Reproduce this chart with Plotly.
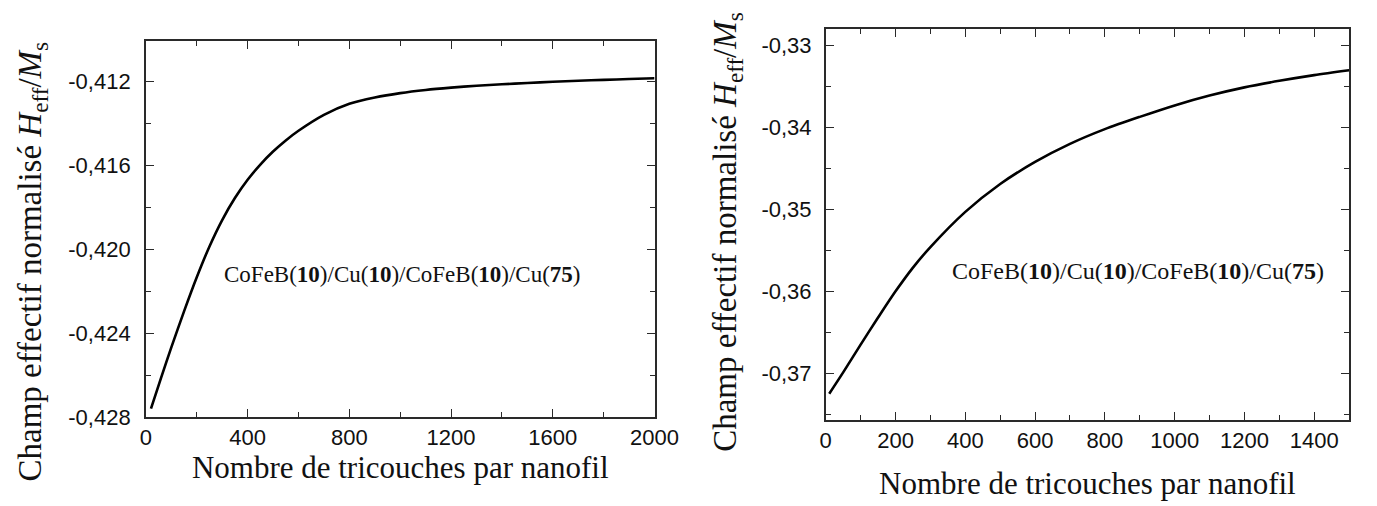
import plotly.graph_objects as go

# ---------------- data ----------------
left_x = [20, 60, 100, 150, 200, 250, 300, 350, 400, 450, 500, 550, 600, 700, 800,
          900, 1000, 1100, 1200, 1300, 1400, 1500, 1600, 1700, 1800, 1900, 2000]
left_y = [-0.42760, -0.42612, -0.42468, -0.42296, -0.42133, -0.41986, -0.41860,
          -0.41755, -0.41668, -0.41595, -0.41533, -0.41480, -0.41434, -0.41358,
          -0.41305, -0.41275, -0.41254, -0.41239, -0.41228, -0.41219, -0.41212,
          -0.41206, -0.41200, -0.41195, -0.41191, -0.41187, -0.41183]

right_x = [10, 50, 100, 150, 200, 250, 300, 400, 500, 600, 700, 800, 900, 1000,
           1100, 1200, 1300, 1400, 1500]
right_y = [-0.3725, -0.3699, -0.3665, -0.3632, -0.3600, -0.3571, -0.3546, -0.3503,
           -0.3469, -0.3442, -0.3420, -0.3402, -0.3387, -0.3373, -0.3361, -0.3351,
           -0.3343, -0.3336, -0.3330]

left_xticks = [0, 400, 800, 1200, 1600, 2000]
left_xtext = ["0", "400", "800", "1200", "1600", "2000"]
left_yticks = [-0.428, -0.424, -0.420, -0.416, -0.412]
left_ytext = ["-0,428", "-0,424", "-0,420", "-0,416", "-0,412"]

right_xticks = [0, 200, 400, 600, 800, 1000, 1200, 1400]
right_xtext = ["0", "200", "400", "600", "800", "1000", "1200", "1400"]
right_yticks = [-0.37, -0.36, -0.35, -0.34, -0.33]
right_ytext = ["-0,37", "-0,36", "-0,35", "-0,34", "-0,33"]

x_title = "Nombre de tricouches par nanofil"
y_title = "Champ effectif normalisé <i>H</i><sub>eff</sub>/<i>M</i><sub>s</sub>"
label = "CoFeB(<b>10</b>)/Cu(<b>10</b>)/CoFeB(<b>10</b>)/Cu(<b>75</b>)"

# ---------------- figure ----------------
W, H = 1377, 506
SANS = "Liberation Sans, Arial, sans-serif"
SERIF = "Liberation Serif, Times New Roman, serif"
INK = "#111"

fig = go.Figure()
fig.add_trace(go.Scatter(x=left_x, y=left_y, mode="lines",
                         line=dict(color="black", width=2.6, shape="spline", smoothing=0.8),
                         xaxis="x", yaxis="y", showlegend=False))
fig.add_trace(go.Scatter(x=right_x, y=right_y, mode="lines",
                         line=dict(color="black", width=2.6, shape="spline", smoothing=0.8),
                         xaxis="x2", yaxis="y2", showlegend=False))


def xdom(a, b):
    return [a / W, b / W]


def ydom(top, bottom):
    return [1 - bottom / H, 1 - top / H]


common = dict(showline=True, linecolor="#2a2a2a", linewidth=1.6, mirror="ticks", ticks="inside",
              ticklen=8, tickwidth=1.4, tickcolor="#2a2a2a", showgrid=False, zeroline=False,
              tickfont=dict(family=SANS, size=22, color=INK))


def minor(step, start):
    return dict(ticks="inside", dtick=step, tick0=start, ticklen=5, tickwidth=1.2, tickcolor="#2a2a2a")


fig.update_layout(
    width=W, height=H, margin=dict(l=0, r=0, t=0, b=0),
    paper_bgcolor="white", plot_bgcolor="white",
    xaxis=dict(domain=xdom(143, 663), range=[0, 2000], anchor="y",
               tickvals=left_xticks, ticktext=left_xtext, minor=minor(200, 0),
               title=dict(text=x_title, font=dict(family=SERIF, size=31, color=INK), standoff=6),
               **common),
    yaxis=dict(domain=ydom(42, 428), range=[-0.428, -0.41005], anchor="x",
               tickvals=left_yticks, ticktext=left_ytext, minor=minor(0.002, -0.428),
               ticklabelstandoff=9, **common),
    xaxis2=dict(domain=xdom(838, 1373), range=[0, 1500], anchor="y2",
                tickvals=right_xticks, ticktext=right_xtext, minor=minor(100, 0),
                title=dict(text=x_title, font=dict(family=SERIF, size=31, color=INK), standoff=20),
                **common),
    yaxis2=dict(domain=ydom(30, 431), range=[-0.3757, -0.328], anchor="x2",
                tickvals=right_yticks, ticktext=right_ytext, minor=minor(0.005, -0.375),
                ticklabelstandoff=8, **common),
    annotations=[
        dict(text=y_title, x=27 / W, y=1 - 268 / H, xref="paper", yref="paper", textangle=-90,
             showarrow=False, font=dict(family=SERIF, size=33, color=INK),
             xanchor="center", yanchor="middle"),
        dict(text=y_title, x=738 / W, y=1 - 238 / H, xref="paper", yref="paper", textangle=-90,
             showarrow=False, font=dict(family=SERIF, size=33, color=INK),
             xanchor="center", yanchor="middle"),
        dict(text=label, x=1010, y=-0.4212, xref="x", yref="y", showarrow=False,
             font=dict(family=SERIF, size=23, color=INK)),
        dict(text=label, x=895, y=-0.3575, xref="x2", yref="y2", showarrow=False,
             font=dict(family=SERIF, size=24, color=INK)),
    ],
)

fig.write_html("out.html")
